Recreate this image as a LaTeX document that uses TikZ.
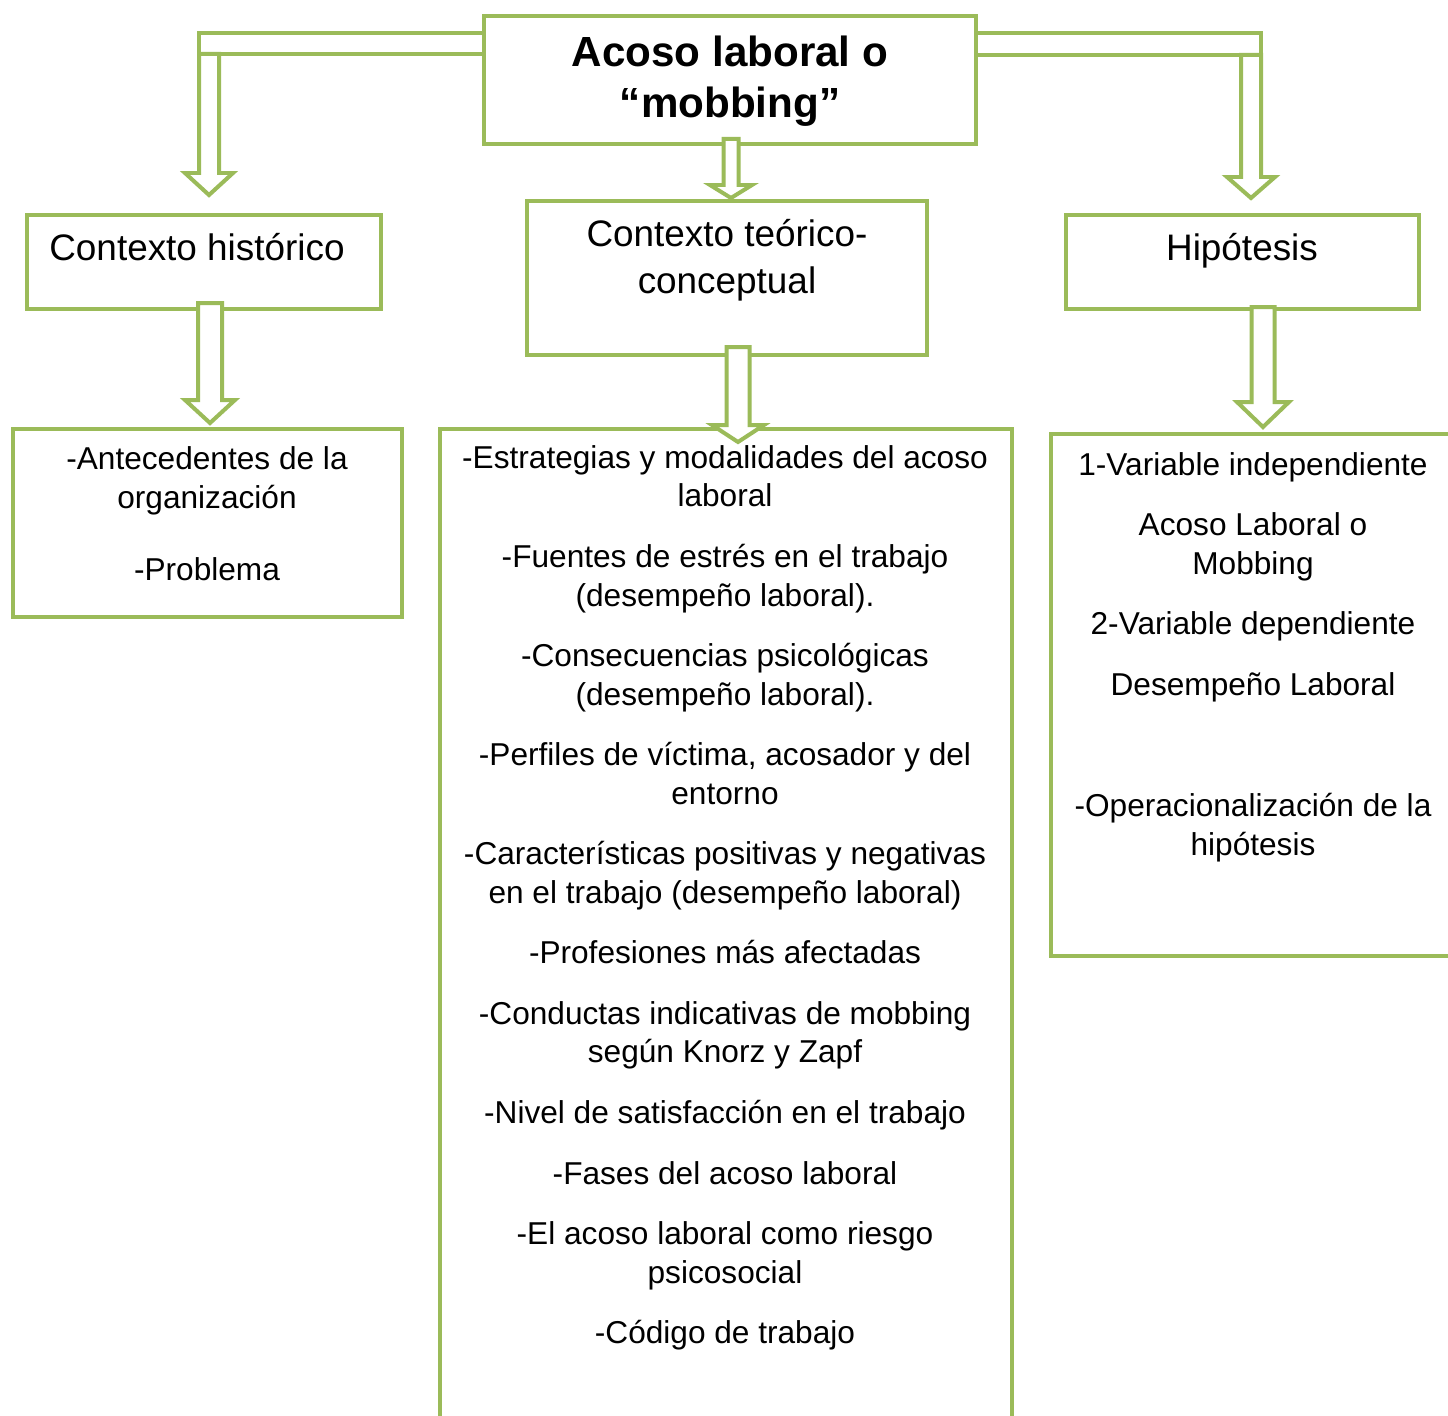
\documentclass[tikz,border=0pt]{standalone}
\usepackage{fontspec}
\setmainfont{Liberation Sans}
\definecolor{boxgreen}{RGB}{155, 187, 89}
\usepackage{tikz}
\usetikzlibrary{fit}
\newcommand{\blockdown}[6]{\draw [hollow] (#1-#5,#2) -- (#1-#5,#3) -- (#1-#6,#3) -- (#1,#4) -- (#1+#6,#3) -- (#1+#5,#3) -- (#1+#5,#2) -- cycle;}

\begin{document}
\begin{tikzpicture}[x=0.02cm, y=-0.02cm, boxline/.style={draw=boxgreen, line width=0.08cm, inner sep=0pt}, hollow/.style={draw=boxgreen, fill=white, line width=0.08cm, line join=miter}, headtxt/.style={font=\fontsize{21}{26.5}\selectfont, align=center}, listtxt/.style={font=\fontsize{18}{21.9}\selectfont, align=center}]
    \fill [white] (0,0) rectangle (1448,1416);
    \clip (0,0) rectangle (1448,1416);

    \node [boxline, fit={(484,16) (976,144)}] (tema) {};
    \node [boxline, fit={(27,215) (381,309)}] (hist) {};
    \node [boxline, fit={(527,201) (927,355)}] (teor) {};
    \node [boxline, fit={(1066,215) (1419,309)}] (hip) {};
    \node [boxline, fit={(13,429) (402,617)}] (ante) {};
    \node [boxline, fit={(440,429) (1012,1440)}] (marco) {};
    \node [boxline, fit={(1051,434) (1470,956)}] (vars) {};

    \node [font=\fontsize{24}{29}\selectfont\bfseries, align=center] (tematxt) at (730,81) {Acoso laboral o\\“mobbing”};
    \node [headtxt] (histtxt) at (197,247) {Contexto histórico};
    \node [headtxt] (teortxt) at (727,260) {Contexto teórico-\\conceptual};
    \node [headtxt] (hiptxt) at (1242,251) {Hipótesis};

    \node [listtxt] (antetxt) at (207,514) {-Antecedentes de la\\organización\\[19.5pt]-Problema};
    \node [listtxt] (marcotxt) at (725,898) {-Estrategias y modalidades del acoso\\laboral\\[12.6pt]
        -Fuentes de estrés en el trabajo\\(desempeño laboral).\\[12.6pt]
        -Consecuencias psicológicas\\(desempeño laboral).\\[12.6pt]
        -Perfiles de víctima, acosador y del\\entorno\\[12.6pt]
        -Características positivas y negativas\\en el trabajo (desempeño laboral)\\[12.6pt]
        -Profesiones más afectadas\\[12.6pt]
        -Conductas indicativas de mobbing\\según Knorz y Zapf\\[12.6pt]
        -Nivel de satisfacción en el trabajo\\[12.6pt]
        -Fases del acoso laboral\\[12.6pt]
        -El acoso laboral como riesgo\\psicosocial\\[12.6pt]
        -Código de trabajo};
    \node [listtxt] (varstxt) at (1253,657) {1-Variable independiente\\[12.6pt]
        Acoso Laboral o\\Mobbing\\[12.6pt]
        2-Variable dependiente\\[12.6pt]
        Desempeño Laboral\\[12.6pt]
        \mbox{}\\[12.6pt]
        -Operacionalización de la\\hipótesis};

    \draw [hollow] (199,33) rectangle (484,54);
    \draw [hollow] (976,33) rectangle (1261,55);
    \blockdown{209}{54}{173}{195}{10}{24}
    \blockdown{1251}{55}{177}{198}{10}{24}
    \blockdown{731}{139}{185}{198}{7.5}{21}
    \blockdown{210}{303}{400}{423}{12}{25}
    \blockdown{738}{347}{425}{442}{11.5}{26}
    \blockdown{1263}{307}{402}{427}{11.5}{26}
\end{tikzpicture}
\end{document}
